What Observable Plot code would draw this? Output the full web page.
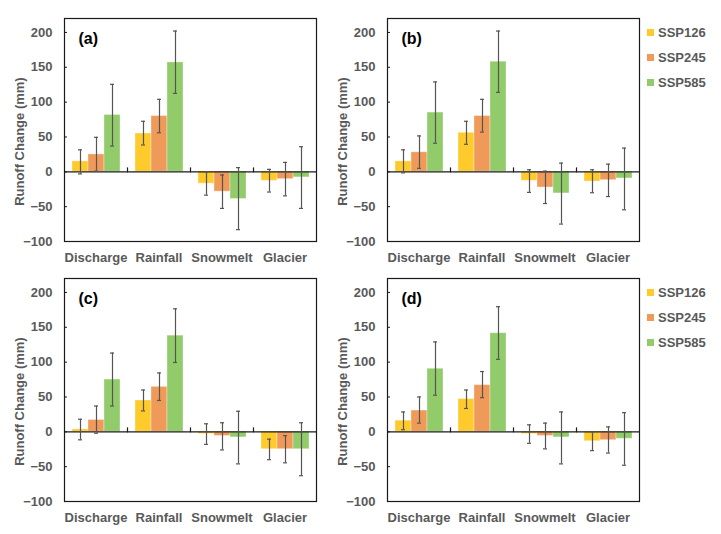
<!DOCTYPE html>
<html><head><meta charset="utf-8">
<script src="https://cdn.jsdelivr.net/npm/d3@7"></script>
<script src="https://cdn.jsdelivr.net/npm/@observablehq/plot@0.6"></script>
<style>
body{margin:0;background:#fff;font-family:"Liberation Sans",Arial,sans-serif;}
#wrap{position:relative;width:721px;height:534px;background:#fff;}
.panel{position:absolute;}
.panel svg{overflow:visible;}
.legend{position:absolute;left:647px;font:bold 13px "Liberation Sans",Arial,sans-serif;color:#595959;}
.legend .row{display:flex;align-items:center;height:24.7px;}
.legend .sw{width:7px;height:7px;margin-right:4px;}
</style></head><body><div id="wrap"></div>
<script>
const categories = ["Discharge", "Rainfall", "Snowmelt", "Glacier"];
const scenarios = ["SSP126", "SSP245", "SSP585"];
const colors = ["#FFCA2C", "#F09A5A", "#92CC6A"];
const yTicks = [-100, -50, 0, 50, 100, 150, 200];
const panelLabels = ["(a)", "(b)", "(c)", "(d)"];

// values ordered category-major: Discharge(126,245,585), Rainfall(...), Snowmelt(...), Glacier(...)
const valuesA = [15, 25, 81.5, 55, 80, 157, -17, -28.5, -39, -13, -10.5, -8];
const lowA    = [-3, 1, 37, 38.5, 56, 112.5, -33.5, -52.5, -83, -29, -34.5, -52.5];
const highA   = [31.5, 49.5, 125.5, 72.5, 104, 202, 0, -4.5, 6, 3.5, 13.5, 36];

const valuesB = [15, 28, 85, 56, 80, 158, -13, -22.5, -31, -14, -12, -9.5];
const lowB    = [-1.5, 5, 41, 39.5, 57, 114, -29.5, -45.5, -75, -30, -35.5, -54.5];
const highB   = [31.5, 51.5, 129, 72.5, 104, 202, 3, 1, 12.5, 3, 11, 34];

const valuesC = [3.5, 17, 75, 45, 64.5, 138, -3, -6, -8, -25, -25, -25];
const lowC    = [-11.5, -2, 37, 30, 45, 99.5, -18, -26, -46, -40, -44.5, -63];
const highC   = [18, 37, 113, 60, 84.5, 176.5, 11.5, 13, 29.5, -10.5, -5.5, 13];

const valuesD = [16, 30.5, 90.5, 47, 67, 141.5, -3, -6, -8, -13.5, -12, -10];
const lowD    = [3, 12.5, 52.5, 33.5, 49, 104, -16.5, -24.5, -46, -27, -30.5, -48];
const highD   = [28.5, 50, 129, 60, 86.5, 179.5, 10, 12.5, 28.5, 0, 7, 27.5];

const tickShape = {draw(context, l) { context.moveTo(0, 0); context.lineTo(0, -l); }};

function makePanel(label, values, lows, highs) {
  const data = [];
  categories.forEach((c, i) => scenarios.forEach((s, j) => {
    const k = i * scenarios.length + j;
    data.push({category: c, scenario: s, value: values[k], low: lows[k], high: highs[k]});
  }));
  return Plot.plot({
    width: 323, height: 259,
    marginLeft: 63, marginRight: 6, marginTop: 18, marginBottom: 18,
    style: {fontFamily: "Liberation Sans, Arial, sans-serif", fontSize: "13px", fontWeight: "bold", color: "#595959", overflow: "visible", background: "transparent"},
    fx: {domain: categories, padding: 0, label: null},
    x: {domain: scenarios, axis: null, paddingInner: 0, paddingOuter: 0.37},
    y: {domain: [-100, 220]},
    color: {domain: scenarios, range: colors},
    marks: [
      Plot.barY(data, {fx: "category", x: "scenario", y: "value", fill: "scenario", stroke: "white", strokeOpacity: 0.35, strokeWidth: 1}),
      Plot.ruleY([0], {stroke: "#1a1a1a", strokeWidth: 1.2}),
      Plot.ruleX(data, {fx: "category", x: "scenario", y1: "low", y2: "high", stroke: "#555", strokeWidth: 1.2}),
      Plot.tickY(data, {fx: "category", x: "scenario", y: "low", stroke: "#555", strokeWidth: 1.2, insetLeft: 6, insetRight: 6}),
      Plot.tickY(data, {fx: "category", x: "scenario", y: "high", stroke: "#555", strokeWidth: 1.2, insetLeft: 6, insetRight: 6}),
      Plot.vector(categories.slice(1), {fx: d => d, y: d => 0, frameAnchor: "left", length: 4, rotate: 0, anchor: "start", shape: tickShape, stroke: "#1a1a1a", strokeWidth: 1.2}),
      Plot.axisY({ticks: yTicks, tickSize: -3, tickPadding: 15, label: null, fill: "#595959", stroke: "#1a1a1a"}),
      Plot.axisFx({anchor: "bottom", tickSize: 0, tickPadding: 11, label: null, fill: "#595959"}),
      Plot.frame({facet: "super", stroke: "#1a1a1a", strokeWidth: 1.2}),
      Plot.text(["Runoff Change (mm)"], {facet: "super", frameAnchor: "left", textAnchor: "middle", lineAnchor: "middle", rotate: -90, dx: -44.5, dy: 11.6, fill: "#595959", fontSize: 13, fontWeight: "bold"}),
      Plot.text([label], {facet: "super", frameAnchor: "top-left", textAnchor: "start", dx: 14, dy: 14.3, fill: "#000", fontSize: 16, fontWeight: "bold"})
    ]
  });
}

const wrap = document.getElementById("wrap");
const specs = [
  [valuesA, lowA, highA, 0, 0],
  [valuesB, lowB, highB, 323, 0],
  [valuesC, lowC, highC, 0, 259.5],
  [valuesD, lowD, highD, 323, 259.5]
];
specs.forEach(([v, lo, hi, left, top], i) => {
  const div = document.createElement("div");
  div.className = "panel";
  div.style.left = left + "px";
  div.style.top = top + "px";
  div.appendChild(makePanel(panelLabels[i], v, lo, hi));
  wrap.appendChild(div);
});

[20.6, 280.6].forEach(top => {
  const lg = document.createElement("div");
  lg.className = "legend";
  lg.style.top = top + "px";
  scenarios.forEach((s, i) => {
    const row = document.createElement("div");
    row.className = "row";
    const sw = document.createElement("span");
    sw.className = "sw";
    sw.style.background = colors[i];
    const tx = document.createElement("span");
    tx.textContent = s;
    row.appendChild(sw);
    row.appendChild(tx);
    lg.appendChild(row);
  });
  wrap.appendChild(lg);
});
</script></body></html>
